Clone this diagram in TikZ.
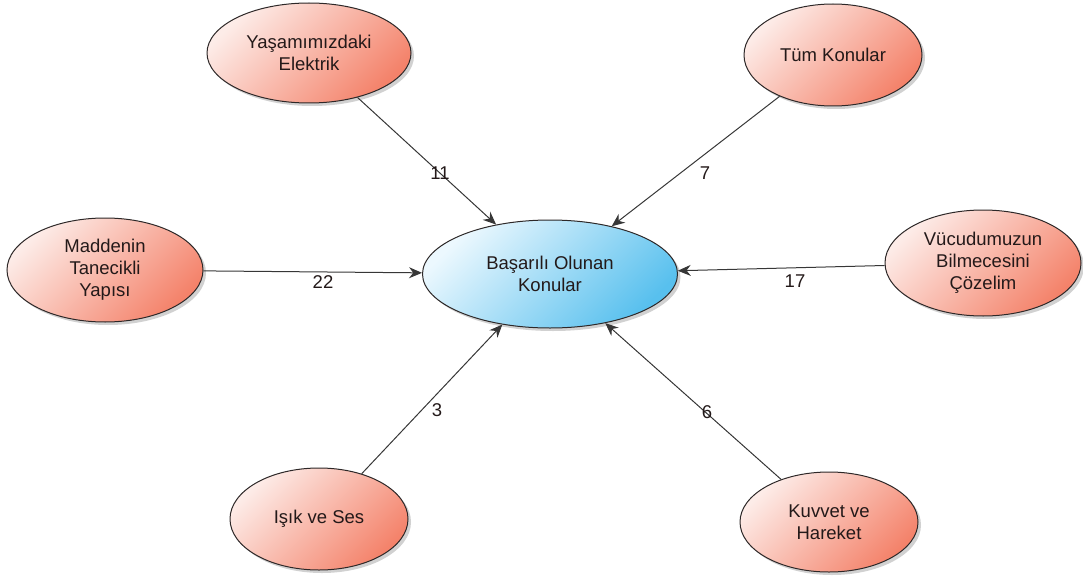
\documentclass[tikz,border=0pt]{standalone}
\usepackage{fontspec}
\setmainfont{Liberation Sans}
\usetikzlibrary{shapes.geometric,arrows.meta,shadows}
\definecolor{txt}{RGB}{35,25,25}
\definecolor{edgeline}{RGB}{55,55,55}
\definecolor{rimcol}{RGB}{45,40,40}
\definecolor{salmonL}{RGB}{253,236,232}
\definecolor{salmonD}{RGB}{244,130,106}
\definecolor{skyL}{RGB}{236,248,254}
\definecolor{skyD}{RGB}{88,192,238}
\tikzset{
  bubble/.style={ellipse, draw=rimcol, line width=1pt, inner sep=0pt,
    align=center, text=txt, font=\fontsize{18.5}{22}\selectfont,
    drop shadow={shadow xshift=3pt, shadow yshift=-3pt, opacity=0.18, fill=black}},
  topic/.style={bubble, top color=salmonL, bottom color=salmonD, shading angle=45},
  hub/.style={bubble, top color=skyL, bottom color=skyD, shading angle=45,
    minimum width=255pt, minimum height=108pt},
  conn/.style={draw=edgeline, line width=1pt, -{Stealth[length=13pt,width=11pt]}},
  count/.style={text=txt, font=\fontsize{18.5}{22}\selectfont, inner sep=0pt}
}
\begin{document}
\begin{tikzpicture}[x=1pt,y=-1pt]
\useasboundingbox (0,0) rectangle (1083,575);

% central topic
\node[hub] (cen) at (550,274) {Başarılı Olunan\\Konular};

% surrounding topics
\node[topic, minimum width=204pt, minimum height=100pt] (yas) at (309,53) {Yaşamımızdaki\\Elektrik};
\node[topic, minimum width=178pt, minimum height=102pt] (tum) at (833,55) {Tüm Konular};
\node[topic, minimum width=196pt, minimum height=104pt] (mad) at (105,270) {Maddenin\\Tanecikli\\Yapısı};
\node[topic, minimum width=196pt, minimum height=106pt] (vuc) at (983,263) {Vücudumuzun\\Bilmecesini\\Çözelim};
\node[topic, minimum width=178pt, minimum height=102pt] (isi) at (319,519) {Işık ve Ses};
\node[topic, minimum width=178pt, minimum height=100pt] (kuv) at (829,522) {Kuvvet ve\\Hareket};

% connectors into the central topic
\draw[conn] (yas) -- (cen);
\draw[conn] (tum) -- (cen);
\draw[conn] (mad) -- (cen);
\draw[conn] (vuc) -- (cen);
\draw[conn] (isi) -- (cen);
\draw[conn] (kuv) -- (cen);

% counts on the connectors
\node[count] (n11) at (440,173) {11};
\node[count] (n7)  at (705,173) {7};
\node[count] (n22) at (323,282) {22};
\node[count] (n17) at (795,281) {17};
\node[count] (n3)  at (437,410) {3};
\node[count] (n6)  at (707,412) {6};
\end{tikzpicture}
\end{document}
